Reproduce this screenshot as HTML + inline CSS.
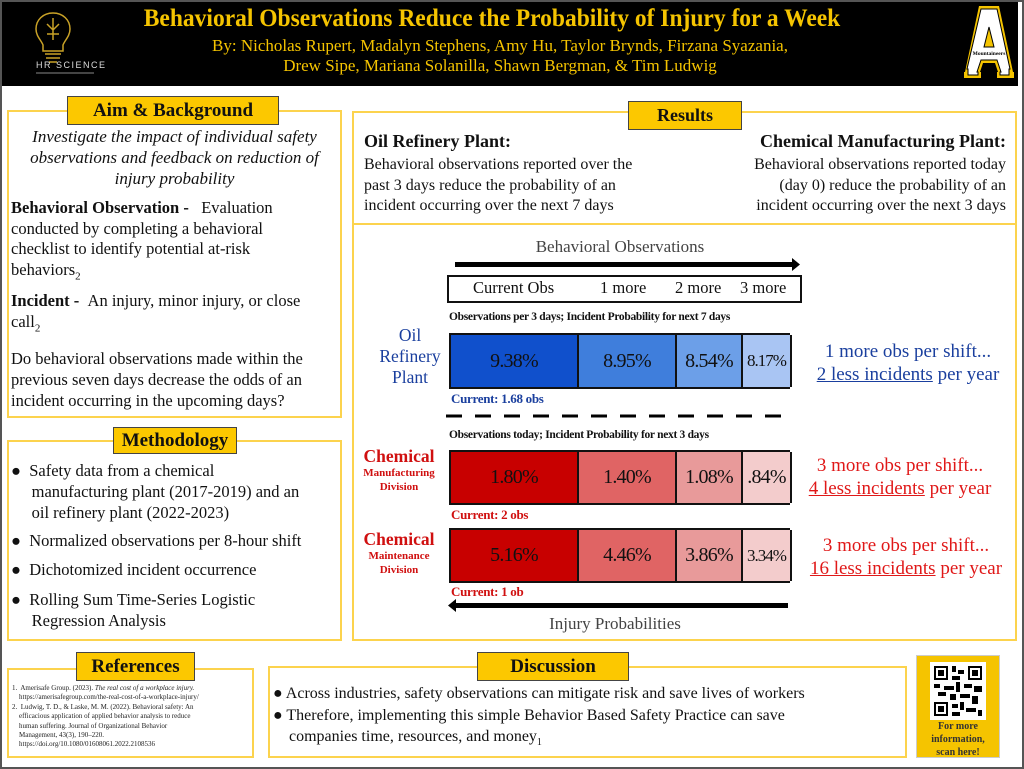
<!DOCTYPE html>
<html><head><meta charset="utf-8"><style>
*{margin:0;padding:0;box-sizing:border-box}
body{width:1024px;height:769px;position:relative;background:#fff;font-family:"Liberation Serif",serif;color:#111;overflow:hidden}
.a{position:absolute;white-space:nowrap}
.box{position:absolute;border:2px solid #fcd34d}
.tab{position:absolute;background:#fcc800;border:1.5px solid #444;font-weight:bold;text-align:center;color:#111}
.c{text-align:center}
.seg{position:absolute;top:0;bottom:0;display:flex;align-items:center;justify-content:center;font-size:20px;letter-spacing:-0.8px;border-right:2px solid #111}
</style></head><body>
<div class="a" style="left:0;top:0;width:1024px;height:769px;border:2px solid #555"></div>
<!-- header -->
<div class="a" style="left:2px;top:2px;width:1016px;height:84px;background:#000"></div>
<svg class="a" style="left:30px;top:10px" width="46" height="55" viewBox="0 0 46 55"><g fill="none" stroke="#c9a227" stroke-width="1.5"><path d="M23 3c-10 0-17 7-17 16 0 7 5 11 7 16v6h20v-6c2-5 7-9 7-16 0-9-7-16-17-16z"/><path d="M15 44h16M16 48h14M19 52h8M23 8v22M17 14l6 6 6-6M17 24h12"/></g></svg>
<div class="a" style="left:36px;top:60px;font-family:'Liberation Sans',sans-serif;font-size:9px;color:#ddd;letter-spacing:1.5px">HR SCIENCE</div>
<div class="a" style="left:36px;top:72px;width:58px;height:2px;background:#444"></div>
<div class="a c" style="left:92px;top:5px;width:800px;font-size:25px;font-weight:bold;color:#f5c400;transform:scaleX(0.94)">Behavioral Observations Reduce the Probability of Injury for a Week</div>
<div class="a c" style="left:100px;top:36px;width:800px;font-size:17px;color:#f5c400;line-height:20px">By: Nicholas Rupert, Madalyn Stephens, Amy Hu, Taylor Brynds, Firzana Syazania,<br>Drew Sipe, Mariana Solanilla, Shawn Bergman, &amp; Tim Ludwig</div>
<svg class="a" style="left:962px;top:3px" width="54" height="78" viewBox="0 0 54 78">
<path d="M16 1h22l14 67h2v9H33v-9h2l-2-7H21l-2 7h2v9H0v-9h2z" fill="#000"/>
<path d="M17 3h20l14 66h1v6H35v-6h1l-3-9H21l-3 9h1v6H2v-6h1z" fill="#f5c400"/>
<path d="M19 6h16l13 60h-1v6h-9v-3h1l-4-12H19l-4 12h1v3H6v-6H5z" fill="#fff" stroke="#000" stroke-width="1"/>
<path d="M27 24l5 20h-10z" fill="#f5c400" stroke="#000"/>
<text x="27" y="52" font-size="5.5" text-anchor="middle" font-family="Liberation Serif" font-weight="bold">Mountaineers</text></svg>

<!-- Aim -->
<div class="box" style="left:7px;top:110px;width:335px;height:308px"></div>
<div class="tab" style="left:67px;top:96px;width:212px;height:29px;font-size:19px;line-height:27px">Aim &amp; Background</div>
<div class="a c" style="left:8px;top:126px;width:333px;font-size:17px;font-style:italic;line-height:21px">Investigate the impact of individual safety<br>observations and feedback on reduction of<br>injury probability</div>
<div class="a" style="left:11px;top:198px;font-size:16.5px;line-height:20.5px"><b>Behavioral Observation -</b> &nbsp;&nbsp;Evaluation<br>conducted by completing a behavioral<br>checklist to identify potential at-risk<br>behaviors<sub style="font-size:11px">2</sub></div>
<div class="a" style="left:11px;top:290px;font-size:16.5px;line-height:21px"><b>Incident -</b> &nbsp;An injury, minor injury, or close<br>call<sub style="font-size:11px">2</sub></div>
<div class="a" style="left:11px;top:348px;font-size:16.5px;line-height:21px">Do behavioral observations made within the<br>previous seven days decrease the odds of an<br>incident occurring in the upcoming days?</div>

<!-- Methodology -->
<div class="box" style="left:7px;top:440px;width:335px;height:201px"></div>
<div class="tab" style="left:113px;top:427px;width:124px;height:27px;font-size:19px;line-height:25px">Methodology</div>
<div class="a" style="left:11px;top:460px;font-size:16.5px;line-height:21px">●&nbsp; Safety data from a chemical<br>&nbsp;&nbsp;&nbsp;&nbsp;&nbsp;manufacturing plant (2017-2019) and an<br>&nbsp;&nbsp;&nbsp;&nbsp;&nbsp;oil refinery plant (2022-2023)</div>
<div class="a" style="left:11px;top:531px;font-size:16.5px">●&nbsp; Normalized observations per 8-hour shift</div>
<div class="a" style="left:11px;top:560px;font-size:16.5px">●&nbsp; Dichotomized incident occurrence</div>
<div class="a" style="left:11px;top:589px;font-size:16.5px;line-height:21px">●&nbsp; Rolling Sum Time-Series Logistic<br>&nbsp;&nbsp;&nbsp;&nbsp;&nbsp;Regression Analysis</div>

<!-- Results -->
<div class="box" style="left:352px;top:111px;width:665px;height:530px"></div>
<div class="a" style="left:352px;top:223px;width:665px;height:2px;background:#fcd34d"></div>
<div class="tab" style="left:628px;top:101px;width:114px;height:29px;font-size:18px;line-height:27px">Results</div>
<div class="a" style="left:364px;top:131px;font-size:18px;font-weight:bold">Oil Refinery Plant:</div>
<div class="a" style="left:364px;top:155px;font-size:16px;line-height:20.5px">Behavioral observations reported over the<br>past 3 days reduce the probability of an<br>incident occurring over the next 7 days</div>
<div class="a" style="right:18px;top:131px;font-size:18px;font-weight:bold;text-align:right">Chemical Manufacturing Plant:</div>
<div class="a" style="right:18px;top:155px;font-size:16px;line-height:20.5px;text-align:right">Behavioral observations reported today<br>(day 0) reduce the probability of an<br>incident occurring over the next 3 days</div>

<!-- chart -->
<div class="a c" style="left:500px;top:237px;width:240px;font-size:17px;color:#444">Behavioral Observations</div>
<svg class="a" style="left:440px;top:255px" width="370" height="20"><rect x="15" y="7" width="340" height="5" fill="#000"/><path d="M352 3l8 6.5-8 6.5z" fill="#000"/></svg>
<div class="a" style="left:447px;top:275px;width:355px;height:28px;border:2px solid #111"></div>
<div class="a" style="left:473px;top:278px;font-size:16.5px">Current Obs</div>
<div class="a" style="left:600px;top:278px;font-size:16.5px">1 more</div>
<div class="a" style="left:675px;top:278px;font-size:16.5px">2 more</div>
<div class="a" style="left:740px;top:278px;font-size:16.5px">3 more</div>
<div class="a" style="left:449px;top:311px;font-size:11.5px;font-weight:bold;letter-spacing:-0.3px">Observations per 3 days; Incident Probability for next 7 days</div>

<div class="a c" style="left:362px;top:325px;width:96px;font-size:17.5px;color:#1a3f9e;line-height:21px">Oil<br>Refinery<br>Plant</div>
<div class="a" style="left:449px;top:333px;width:341px;height:56px;border:2px solid #111;border-right:none">
<div class="seg" style="left:0;width:128px;background:#1050cc">9.38%</div>
<div class="seg" style="left:128px;width:98px;background:#3f7edc">8.95%</div>
<div class="seg" style="left:226px;width:66px;background:#6c9fe8">8.54%</div>
<div class="seg" style="left:292px;width:49px;background:#a9c5f3;font-size:17px;letter-spacing:-1px">8.17%</div></div>
<div class="a" style="left:451px;top:391px;font-size:13px;font-weight:bold;color:#1a3f9e;letter-spacing:-0.3px">Current: 1.68 obs</div>
<svg class="a" style="left:446px;top:414px" width="350" height="5"><line x1="0" y1="2" x2="346" y2="2" stroke="#000" stroke-width="3" stroke-dasharray="16,13"/></svg>
<div class="a" style="left:449px;top:429px;font-size:11.5px;font-weight:bold;letter-spacing:-0.3px">Observations today; Incident Probability for next 3 days</div>

<div class="a c" style="left:352px;top:448px;width:94px;color:#d01010;line-height:1"><div style="font-size:17.5px;font-weight:bold">Chemical</div><div style="font-size:11px;font-weight:bold;margin-top:2px">Manufacturing</div><div style="font-size:11px;font-weight:bold;margin-top:3px">Division</div></div>
<div class="a" style="left:449px;top:450px;width:341px;height:55px;border:2px solid #111;border-right:none">
<div class="seg" style="left:0;width:128px;background:#c80000">1.80%</div>
<div class="seg" style="left:128px;width:98px;background:#e06464">1.40%</div>
<div class="seg" style="left:226px;width:66px;background:#e89a9a">1.08%</div>
<div class="seg" style="left:292px;width:49px;background:#f3cccc">.84%</div></div>
<div class="a" style="left:451px;top:507px;font-size:13px;font-weight:bold;color:#d01010;letter-spacing:-0.3px">Current: 2 obs</div>

<div class="a c" style="left:352px;top:531px;width:94px;color:#d01010;line-height:1"><div style="font-size:17.5px;font-weight:bold">Chemical</div><div style="font-size:11px;font-weight:bold;margin-top:2px">Maintenance</div><div style="font-size:11px;font-weight:bold;margin-top:3px">Division</div></div>
<div class="a" style="left:449px;top:528px;width:341px;height:55px;border:2px solid #111;border-right:none">
<div class="seg" style="left:0;width:128px;background:#c80000">5.16%</div>
<div class="seg" style="left:128px;width:98px;background:#e06464">4.46%</div>
<div class="seg" style="left:226px;width:66px;background:#e89a9a">3.86%</div>
<div class="seg" style="left:292px;width:49px;background:#f3cccc;font-size:17px;letter-spacing:-1px">3.34%</div></div>
<div class="a" style="left:451px;top:584px;font-size:13px;font-weight:bold;color:#d01010;letter-spacing:-0.3px">Current: 1 ob</div>
<svg class="a" style="left:445px;top:597px" width="350" height="16"><rect x="8" y="6" width="335" height="5" fill="#000"/><path d="M11 2l-8 6.5 8 6.5z" fill="#000"/></svg>
<div class="a c" style="left:500px;top:614px;width:230px;font-size:17px;color:#444">Injury Probabilities</div>

<div class="a c" style="left:803px;top:340px;width:210px;font-size:19px;color:#1a3f9e;line-height:23px">1 more obs per shift...<br><u>2 less incidents</u> per year</div>
<div class="a c" style="left:795px;top:454px;width:210px;font-size:19px;color:#e01818;line-height:23px">3 more obs per shift...<br><u>4 less incidents</u> per year</div>
<div class="a c" style="left:800px;top:534px;width:212px;font-size:19px;color:#e01818;line-height:23px">3 more obs per shift...<br><u>16 less incidents</u> per year</div>

<!-- References -->
<div class="box" style="left:7px;top:668px;width:247px;height:90px"></div>
<div class="tab" style="left:76px;top:652px;width:119px;height:29px;font-size:19px;line-height:27px">References</div>
<div class="a" style="left:12px;top:684px;font-size:7px;line-height:9.4px;color:#222">1.&nbsp; Amerisafe Group. (2023). <i>The real cost of a workplace injury.</i><br>&nbsp;&nbsp;&nbsp;&nbsp;https://amerisafegroup.com/the-real-cost-of-a-workplace-injury/<br>2.&nbsp; Ludwig, T. D., &amp; Laske, M. M. (2022). Behavioral safety: An<br>&nbsp;&nbsp;&nbsp;&nbsp;efficacious application of applied behavior analysis to reduce<br>&nbsp;&nbsp;&nbsp;&nbsp;human suffering. Journal of Organizational Behavior<br>&nbsp;&nbsp;&nbsp;&nbsp;Management, 43(3), 190–220.<br>&nbsp;&nbsp;&nbsp;&nbsp;https://doi.org/10.1080/01608061.2022.2108536</div>

<!-- Discussion -->
<div class="box" style="left:268px;top:666px;width:639px;height:92px"></div>
<div class="tab" style="left:477px;top:652px;width:152px;height:29px;font-size:19px;line-height:27px">Discussion</div>
<div class="a" style="left:273px;top:683px;font-size:16px;line-height:21.5px">● Across industries, safety observations can mitigate risk and save lives of workers<br>● Therefore, implementing this simple Behavior Based Safety Practice can save<br>&nbsp;&nbsp;&nbsp;&nbsp;companies time, resources, and money<sub style="font-size:10px">1</sub></div>

<!-- QR -->
<div class="a" style="left:916px;top:655px;width:84px;height:103px;background:#f5c400;border:1px solid #ccc"></div>
<svg class="a" style="left:930px;top:662px" width="56" height="58" viewBox="0 0 28 29"><rect width="28" height="29" fill="#fff"/><g fill="#000"><rect x="2" y="2" width="7" height="7"/><rect x="19" y="2" width="7" height="7"/><rect x="2" y="20" width="7" height="7"/></g><g fill="#fff"><rect x="3" y="3" width="5" height="5"/><rect x="20" y="3" width="5" height="5"/><rect x="3" y="21" width="5" height="5"/></g><g fill="#000"><rect x="4" y="4" width="3" height="3"/><rect x="21" y="4" width="3" height="3"/><rect x="4" y="22" width="3" height="3"/><rect x="11" y="2" width="2" height="3"/><rect x="14" y="4" width="3" height="2"/><rect x="11" y="7" width="4" height="2"/><rect x="2" y="11" width="3" height="2"/><rect x="7" y="12" width="5" height="2"/><rect x="13" y="10" width="2" height="5"/><rect x="17" y="11" width="4" height="2"/><rect x="22" y="12" width="4" height="3"/><rect x="4" y="15" width="4" height="2"/><rect x="10" y="16" width="3" height="3"/><rect x="15" y="16" width="5" height="2"/><rect x="21" y="17" width="3" height="4"/><rect x="11" y="21" width="3" height="2"/><rect x="15" y="20" width="2" height="4"/><rect x="18" y="23" width="5" height="2"/><rect x="11" y="25" width="4" height="2"/><rect x="24" y="24" width="2" height="3"/></g></svg>
<div class="a c" style="left:916px;top:720px;width:84px;font-size:10px;font-weight:bold;line-height:13px;color:#333">For more<br>information,<br>scan here!</div>
</body></html>
